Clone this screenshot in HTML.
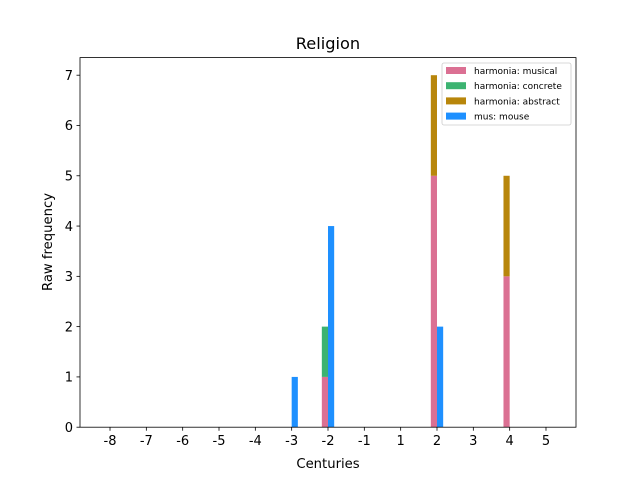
<!DOCTYPE html>
<html><head><meta charset="utf-8"><style>
body{margin:0;background:#fff;}
svg text{font-family:"DejaVu Sans","Liberation Sans",sans-serif;fill:#000;}
</style></head><body>
<svg id="chart" width="640" height="480" viewBox="0 0 640 480" xmlns="http://www.w3.org/2000/svg">
<rect width="640" height="480" fill="#fff"/>
<text x="328" y="49" text-anchor="middle" font-size="16.2">Religion</text>
<g id="bars"></g>
<rect x="80" y="57.6" width="496" height="369.6" fill="none" stroke="#000" stroke-width="0.8"/>
<g id="axes"></g>
<text x="328" y="468" text-anchor="middle" font-size="13.2">Centuries</text>
<text transform="translate(52,242) rotate(-90)" text-anchor="middle" font-size="13.2">Raw frequency</text>
<g>
<rect x="442" y="63" width="129" height="62" fill="#fff" fill-opacity="0.8" stroke="#ccc" stroke-width="0.8" rx="2"/>
<g id="legend"></g>
</g>
</svg>
<script>
const categories=["-8","-7","-6","-5","-4","-3","-2","-1","1","2","3","4","5"];
const yTicks=[0,1,2,3,4,5,6,7];
const musical=[0,0,0,0,0,0,1,0,0,5,0,3,0];
const concrete=[0,0,0,0,0,0,1,0,0,0,0,0,0];
const abstract_=[0,0,0,0,0,0,0,0,0,2,0,2,0];
const mouse=[0,0,0,0,0,1,4,0,0,2,0,0,0];
const seriesNames=["harmonia: musical","harmonia: concrete","harmonia: abstract","mus: mouse"];
const colors=["#DB7093","#3CB371","#B8860B","#1E90FF"];
const NS="http://www.w3.org/2000/svg";
const L=80,R=576,T=57.6,B=427.2;
const xmin=-0.826,xmax=12.826,ymax=7.35;
const xs=i=>L+(i-xmin)/(xmax-xmin)*(R-L);
const ys=v=>B-v/ymax*(B-T);
const bw=0.17;
function mk(t,a){const e=document.createElementNS(NS,t);for(const k in a)e.setAttribute(k,a[k]);return e;}
const bars=document.getElementById('bars');
function bar(i,off,lo,hi,c,name){
  if(hi<=lo)return;
  const x0=xs(i+off),x1=xs(i+off+bw);
  const r=mk('rect',{x:x0,y:ys(hi),width:x1-x0,height:ys(lo)-ys(hi),fill:c});
  
  
  bars.appendChild(r);
}
categories.forEach((c,i)=>{
  bar(i,-bw,0,musical[i],colors[0],'bar-musical-'+c);
  bar(i,-bw,musical[i],musical[i]+concrete[i],colors[1],'bar-concrete-'+c);
  bar(i,-bw,musical[i]+concrete[i],musical[i]+concrete[i]+abstract_[i],colors[2],'bar-abstract-'+c);
  bar(i,0,0,mouse[i],colors[3],'bar-mouse-'+c);
});
const ax=document.getElementById('axes');
categories.forEach((c,i)=>{
  const x=xs(i);
  const l=mk('line',{x1:x,x2:x,y1:B,y2:B+3.5,stroke:'#000','stroke-width':0.8});
  
  
  ax.appendChild(l);
  const t=mk('text',{x:x,y:B+18,'text-anchor':'middle','font-size':13});
  t.textContent=c;
  
  
  ax.appendChild(t);
});
yTicks.forEach(v=>{
  const y=ys(v);
  const l=mk('line',{x1:L-3.5,x2:L,y1:y,y2:y,stroke:'#000','stroke-width':0.8});
  
  
  ax.appendChild(l);
  const t=mk('text',{x:L-7,y:y+4.7,'text-anchor':'end','font-size':13});
  t.textContent=v;
  
  
  ax.appendChild(t);
});
const lg=document.getElementById('legend');
seriesNames.forEach((n,k)=>{
  const y=67+k*15.2;
  const r=mk('rect',{x:446,y:y,width:20,height:7,fill:colors[k]});
  
  
  lg.appendChild(r);
  const t=mk('text',{x:474,y:y+7,'font-size':9});
  t.textContent=n;
  
  
  lg.appendChild(t);
});
</script>
</body></html>
